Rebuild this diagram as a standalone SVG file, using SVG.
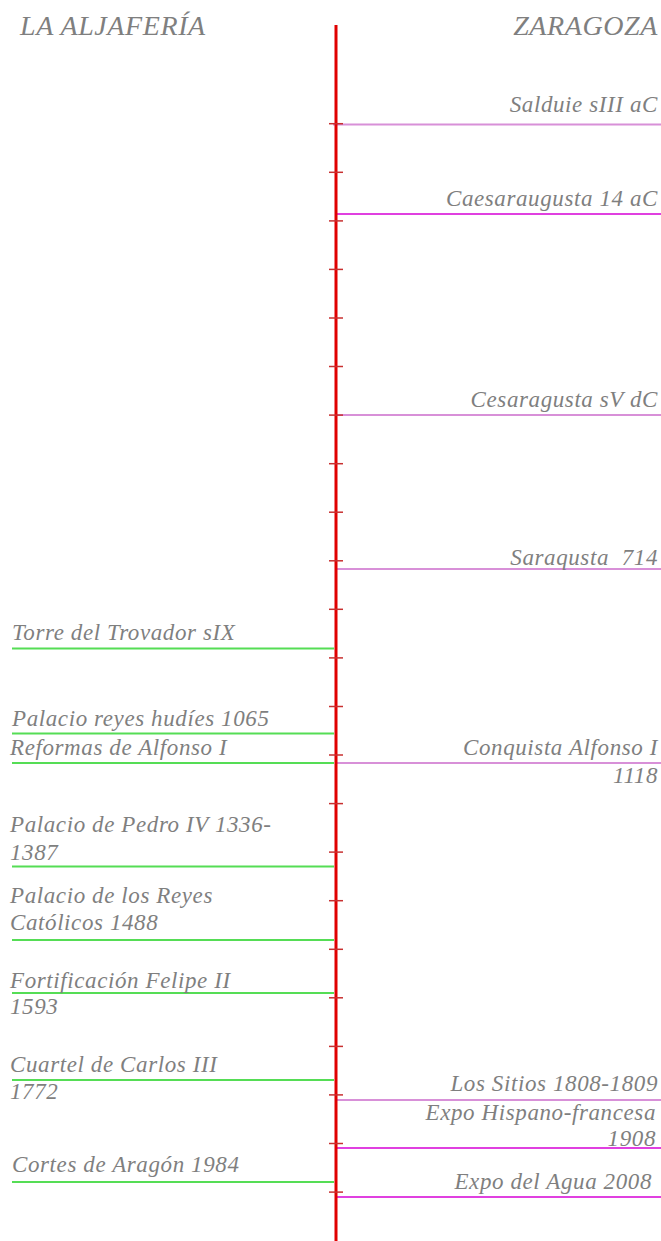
<svg xmlns="http://www.w3.org/2000/svg" width="661" height="1241" viewBox="0 0 661 1241">
<style>
text{font-family:"Liberation Serif","Times New Roman",serif;font-style:italic;fill:#7f7f7f;font-size:23px;letter-spacing:0.6px}
.hdr{font-size:28px}
.r{text-anchor:end}
.g{stroke:#55dd55;stroke-width:2;fill:none}
.m{stroke:#d890d8;stroke-width:2;fill:none}
.mm{stroke:#e040e0;stroke-width:2;fill:none}
.tick{stroke:#c83030;stroke-width:1.5}
.axis{stroke:#e00000;stroke-width:3}
</style>
<rect width="661" height="1241" fill="#ffffff"/>
<g id="headers">
<text class="hdr" x="20" y="35">LA ALJAFERÍA</text>
<text class="hdr r" x="658" y="35">ZARAGOZA</text>
</g>
<g id="connectors">
<line class="m" x1="333" y1="124.5" x2="661" y2="124.5"/>
<line class="mm" x1="336" y1="214" x2="661" y2="214"/>
<line class="m" x1="336" y1="415" x2="661" y2="415"/>
<line class="m" x1="336" y1="569" x2="661" y2="569"/>
<line class="g" x1="12" y1="648.5" x2="334" y2="648.5"/>
<line class="g" x1="12" y1="733.5" x2="334" y2="733.5"/>
<line class="g" x1="12" y1="763" x2="334" y2="763"/>
<line class="m" x1="336" y1="763" x2="661" y2="763"/>
<line class="g" x1="12" y1="866.5" x2="334" y2="866.5"/>
<line class="g" x1="12" y1="940" x2="334" y2="940"/>
<line class="g" x1="12" y1="993" x2="334" y2="993"/>
<line class="g" x1="12" y1="1080" x2="334" y2="1080"/>
<line class="m" x1="336" y1="1100" x2="661" y2="1100"/>
<line class="mm" x1="336" y1="1148" x2="661" y2="1148"/>
<line class="g" x1="12" y1="1182" x2="334" y2="1182"/>
<line class="mm" x1="336" y1="1197" x2="661" y2="1197"/>
</g>
<g id="axis">
<line class="axis" x1="336" y1="25" x2="336" y2="1241"/>
<g id="ticks">
<line class="tick" x1="329" y1="123.7" x2="343" y2="123.7"/>
<line class="tick" x1="329" y1="172.3" x2="343" y2="172.3"/>
<line class="tick" x1="329" y1="220.9" x2="343" y2="220.9"/>
<line class="tick" x1="329" y1="269.4" x2="343" y2="269.4"/>
<line class="tick" x1="329" y1="318" x2="343" y2="318"/>
<line class="tick" x1="329" y1="366.5" x2="343" y2="366.5"/>
<line class="tick" x1="329" y1="415.1" x2="343" y2="415.1"/>
<line class="tick" x1="329" y1="463.7" x2="343" y2="463.7"/>
<line class="tick" x1="329" y1="512.2" x2="343" y2="512.2"/>
<line class="tick" x1="329" y1="560.8" x2="343" y2="560.8"/>
<line class="tick" x1="329" y1="609.3" x2="343" y2="609.3"/>
<line class="tick" x1="329" y1="657.9" x2="343" y2="657.9"/>
<line class="tick" x1="329" y1="706.5" x2="343" y2="706.5"/>
<line class="tick" x1="329" y1="755" x2="343" y2="755"/>
<line class="tick" x1="329" y1="803.6" x2="343" y2="803.6"/>
<line class="tick" x1="329" y1="852.1" x2="343" y2="852.1"/>
<line class="tick" x1="329" y1="900.7" x2="343" y2="900.7"/>
<line class="tick" x1="329" y1="949.3" x2="343" y2="949.3"/>
<line class="tick" x1="329" y1="997.8" x2="343" y2="997.8"/>
<line class="tick" x1="329" y1="1046.4" x2="343" y2="1046.4"/>
<line class="tick" x1="329" y1="1094.9" x2="343" y2="1094.9"/>
<line class="tick" x1="329" y1="1143.5" x2="343" y2="1143.5"/>
<line class="tick" x1="329" y1="1192.1" x2="343" y2="1192.1"/>
</g>
</g>
<g id="salduie"><text class="r" x="658" y="112">Salduie sIII aC</text></g>
<g id="caesaraugusta"><text class="r" x="658" y="206">Caesaraugusta 14 aC</text></g>
<g id="cesaragusta"><text class="r" x="658" y="407">Cesaragusta sV dC</text></g>
<g id="saraqusta"><text class="r" x="658" y="565" xml:space="preserve">Saraqusta  714</text></g>
<g id="torre"><text x="12" y="640">Torre del Trovador sIX</text></g>
<g id="palacio-hudies"><text x="12" y="726">Palacio reyes hudíes 1065</text></g>
<g id="reformas"><text x="10" y="755">Reformas de Alfonso I</text></g>
<g id="conquista"><text class="r" x="658" y="755">Conquista Alfonso I</text><text class="r" x="658" y="783">1118</text></g>
<g id="pedro"><text x="10" y="832">Palacio de Pedro IV 1336-</text><text x="10" y="860">1387</text></g>
<g id="reyes-catolicos"><text x="10" y="903">Palacio de los Reyes</text><text x="10" y="930">Católicos 1488</text></g>
<g id="felipe"><text x="10" y="988">Fortificación Felipe II</text><text x="10" y="1014">1593</text></g>
<g id="carlos"><text x="10" y="1072">Cuartel de Carlos III</text><text x="10" y="1099">1772</text></g>
<g id="sitios"><text class="r" x="658" y="1091">Los Sitios 1808-1809</text></g>
<g id="expo-1908"><text class="r" x="656" y="1120">Expo Hispano-francesa</text><text class="r" x="656" y="1146">1908</text></g>
<g id="cortes"><text x="12" y="1172">Cortes de Aragón 1984</text></g>
<g id="expo-2008"><text class="r" x="652" y="1189">Expo del Agua 2008</text></g>
</svg>
